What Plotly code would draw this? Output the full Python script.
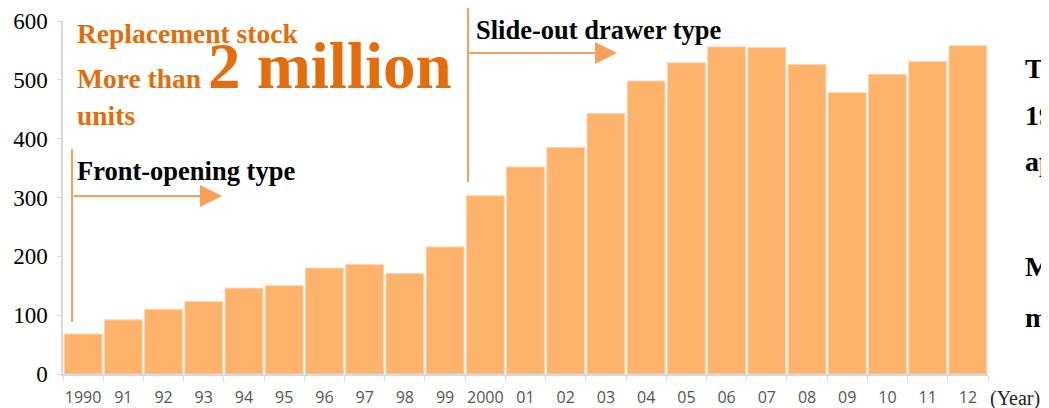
import plotly.graph_objects as go

# ---- data ----
years = ["1990", "91", "92", "93", "94", "95", "96", "97", "98", "99", "2000",
         "01", "02", "03", "04", "05", "06", "07", "08", "09", "10", "11", "12"]
shipments = [68, 92, 110, 123, 146, 150, 180, 186, 171, 216, 303,
             352, 385, 443, 498, 529, 556, 555, 526, 478, 509, 531, 558]
y_ticks = [0, 100, 200, 300, 400, 500, 600]

# ---- geometry (viewport pixels; page body has an 8px default margin) ----
VW, VH = 1049, 408
OFF = 8
W, H = VW - OFF, VH - OFF
L, R, T, B = 63, 988, 21, 374   # plot area in viewport pixels

def px(x):
    return (x - L) / (R - L)

def py(y):
    return (B - y) / (B - T)

BAR = "#FDB36B"
ARROW = "#F8A058"
ORANGE_TXT = "#E46C0A"
SERIF = "Liberation Serif, Times New Roman, serif"

fig = go.Figure()
fig.add_trace(go.Bar(
    x=years, y=shipments,
    marker=dict(color=BAR, line=dict(color="#FDD3A8", width=1)),
    hoverinfo="x+y",
))

annotations = []

def txt(text, x, y, size, color, bold=True, yanchor="middle"):
    annotations.append(dict(
        text=(f"<b>{text}</b>" if bold else text),
        xref="paper", yref="paper", x=px(x), y=py(y),
        xanchor="left", yanchor=yanchor, showarrow=False,
        font=dict(family=SERIF, size=size, color=color),
        borderpad=0,
    ))

txt("Replacement stock", 76, 34, 27.5, ORANGE_TXT)
txt("More than <span style='font-size:65px'>2 million</span>", 76, 66, 27.5, ORANGE_TXT)
txt("units", 76, 116, 27.5, ORANGE_TXT)
txt("Front-opening type", 76, 171, 26.5, "#000000")
txt("Slide-out drawer type", 475, 30, 26.5, "#000000")

# right-side text, cut off by the page edge as in the original
for t, yy in [("T", 69), ("19", 115), ("ap", 162), ("M", 266), ("m", 317)]:
    txt(t, 1024, yy, 28, "#000000")

txt("(Year)", 989, 398, 20, "#222222", bold=False)

# arrows (tail offset in pixels)
def arrow(x0, x1, y):
    annotations.append(dict(
        text="", xref="paper", yref="paper",
        x=px(x1), y=py(y), ax=x0 - x1, ay=0,
        axref="pixel", ayref="pixel",
        showarrow=True, arrowhead=2, arrowsize=2.2, arrowwidth=2,
        arrowcolor=ARROW, standoff=0,
    ))

arrow(72, 222, 196)
arrow(468, 617, 53)

shapes = [
    dict(type="line", xref="paper", yref="paper",
         x0=px(72), x1=px(72), y0=py(149), y1=py(322),
         line=dict(color=ARROW, width=2)),
    dict(type="line", xref="paper", yref="paper",
         x0=px(468), x1=px(468), y0=py(8), y1=py(182),
         line=dict(color=ARROW, width=2)),
]

fig.update_layout(
    width=W, height=H,
    margin=dict(l=L - OFF, r=W - (R - OFF), t=T - OFF, b=H - (B - OFF)),
    plot_bgcolor="white", paper_bgcolor="white",
    showlegend=False,
    bargap=0.06,
    annotations=annotations,
    shapes=shapes,
    xaxis=dict(
        type="category", automargin=False,
        showline=True, linecolor="#d9d9d9", linewidth=1.5,
        ticks="outside", tickson="boundaries", ticklen=5, tickcolor="#d9d9d9",
        tickangle=0,
        tickfont=dict(family="Open Sans, sans-serif", size=16, color="#555555"),
        ticklabelstandoff=8,
        showgrid=False, zeroline=False,
    ),
    yaxis=dict(
        range=[0, 600], tickvals=y_ticks, automargin=False,
        showline=True, linecolor="#d9d9d9", linewidth=1.5,
        ticks="outside", ticklen=4, tickcolor="#d9d9d9",
        tickfont=dict(family=SERIF, size=23, color="#000000"),
        ticklabelstandoff=5, ticklabeloverflow="allow",
        showgrid=False, zeroline=False,
    ),
)

fig.write_html("out.html")
